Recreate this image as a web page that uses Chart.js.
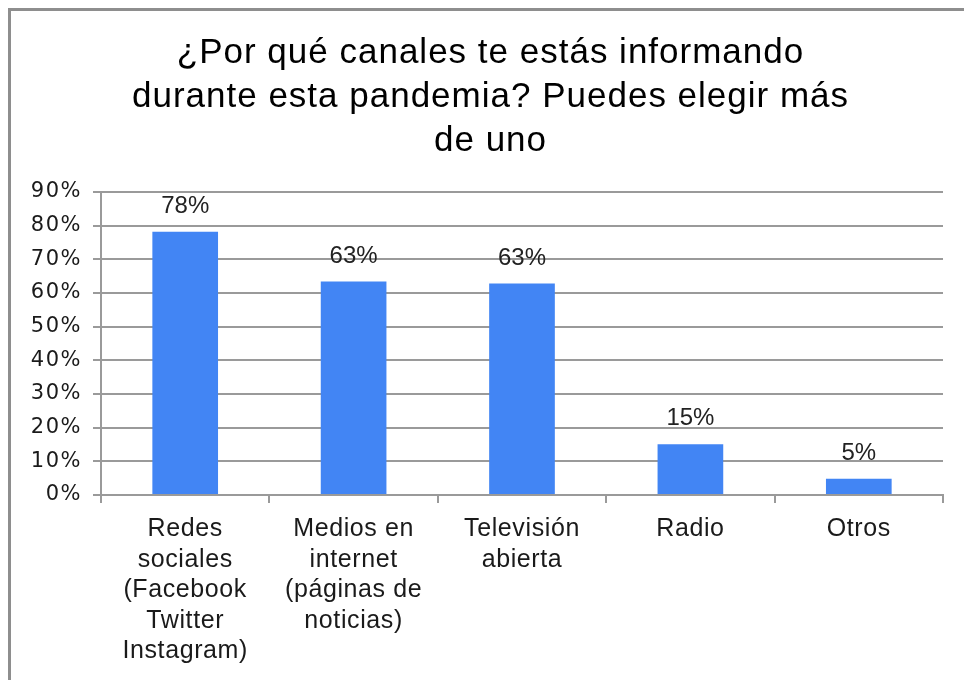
<!DOCTYPE html>
<html>
<head>
<meta charset="utf-8">
<script src="https://cdn.jsdelivr.net/npm/chart.js@4"></script>
<style>
    html, body { margin: 0; padding: 0; background: #fff; }
    #wrap { position: relative; width: 964px; height: 680px; overflow: hidden; }
    #frame { position: absolute; left: 8px; top: 8px; width: 1000px; height: 700px;
             border-left: 3px solid #8e8e8e; border-top: 3px solid #8e8e8e; }
    canvas { position: absolute; left: 0; top: 0; }
</style>
</head>
<body>
<div id="wrap">
    <div id="frame"></div>
    <canvas id="chart" width="964" height="680"></canvas>
</div>
<script>
const titleLines = ['¿Por qué canales te estás informando', 'durante esta pandemia? Puedes elegir más', 'de uno'];
const categories = [
    ['Redes', 'sociales', '(Facebook', 'Twitter', 'Instagram)'],
    ['Medios en', 'internet', '(páginas de', 'noticias)'],
    ['Televisión', 'abierta'],
    ['Radio'],
    ['Otros']
];
const shares = [78.2, 63.4, 62.8, 15.1, 4.8];
const yTicks = [0, 10, 20, 30, 40, 50, 60, 70, 80, 90];

const FONT = "'Liberation Sans', Arial, sans-serif";
const GRID = '#9a9a9a';

// the original's title and y labels are set a bit wider than plain Arial
function widen(obj, method, spacing) {
    const orig = obj[method];
    obj[method] = function (...args) {
        this.ctx.save();
        this.ctx.letterSpacing = spacing;
        orig.apply(this, args);
        this.ctx.restore();
    };
}

const spacing = {
    id: 'spacing',
    afterLayout(chart) {
        if (chart._widened) return;
        chart._widened = true;
        widen(chart.titleBlock, 'draw', '1px');
        widen(chart.scales.y, 'drawLabels', '1.5px');
        widen(chart.scales.x, 'drawLabels', '0.6px');
        // y labels reach into the left padding, don't clip them to the scale box
        chart.scales.y._computeLabelArea = () => undefined;
    }
};

// percent labels above each bar
const barLabels = {
    id: 'barLabels',
    afterDatasetsDraw(chart) {
        const ctx = chart.ctx;
        const meta = chart.getDatasetMeta(0);
        ctx.save();
        ctx.font = '24px ' + FONT;
        ctx.fillStyle = '#222';
        ctx.textAlign = 'center';
        ctx.textBaseline = 'alphabetic';
        meta.data.forEach((bar, i) => {
            ctx.fillText(Math.round(shares[i]) + '%', bar.x, bar.y - 19);
        });
        ctx.restore();
    }
};

new Chart(document.getElementById('chart'), {
    type: 'bar',
    data: {
        labels: categories,
        datasets: [{
            data: shares,
            backgroundColor: '#4285f4',
            borderWidth: 0,
            categoryPercentage: 1,
            barPercentage: 0.39
        }]
    },
    options: {
        responsive: false,
        animation: false,
        // left padding keeps the title centred where the original has it
        layout: { padding: { top: 10, left: 38, right: 21, bottom: 0 } },
        plugins: {
            legend: { display: false },
            tooltip: { enabled: false },
            title: {
                display: true,
                text: titleLines,
                color: '#000',
                font: { family: FONT, size: 35, weight: 'normal', lineHeight: 1.257 },
                padding: { top: 21, bottom: 29 }
            }
        },
        scales: {
            x: {
                grid: { drawOnChartArea: false, drawTicks: true, tickLength: 8, color: GRID, lineWidth: 2 },
                border: { color: GRID, width: 2 },
                ticks: {
                    color: '#1a1a1a',
                    font: { family: FONT, size: 25, lineHeight: 1.22 },
                    padding: 11,
                    maxRotation: 0,
                    autoSkip: false
                },
                afterFit(scale) { scale.height = 185; }
            },
            y: {
                min: 0,
                max: 90,
                afterBuildTicks(scale) { scale.ticks = yTicks.map(v => ({ value: v })); },
                grid: { color: GRID, lineWidth: 2, tickLength: 8 },
                border: { color: GRID, width: 2 },
                ticks: {
                    color: '#1a1a1a',
                    font: { family: "'DejaVu Sans', Verdana, sans-serif", size: 21 },
                    padding: 11,
                    callback: v => v + '%'
                },
                afterFit(scale) { scale.width = 63; }
            }
        }
    },
    plugins: [spacing, barLabels]
});
</script>
</body>
</html>
